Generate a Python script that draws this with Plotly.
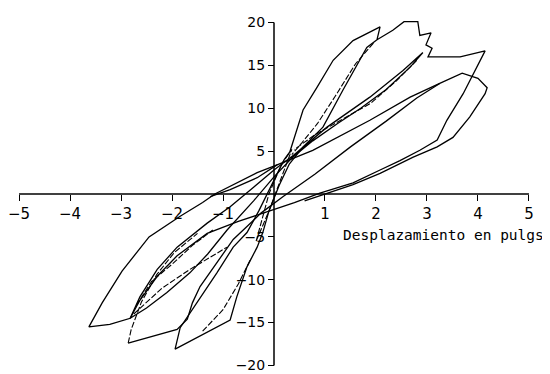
import plotly.graph_objects as go

# ---- data, x = desplazamiento (pulg), y = carga (kips)
# Outer path: ascending to ~±3 cycles, big cycle to ±4 and last degraded cycle
outer_x = [0.31, 0.57, 0.84, 1.16, 1.55, 2.08, 2.02, 2.33, 2.55, 2.82, 2.86, 3.08, 2.98, 3.10, 3.02,
           3.65, 4.14, 3.88, 3.71, 3.39, 3.20, 2.86, 2.47, 2.08, 1.55, 0.90, 0.40, -0.20, -0.70,
           -1.31, -1.90, -2.29, -2.63, -2.82, -3.22, -3.63, -3.37, -2.98, -2.45, -1.84, -1.40,
           -1.16, -0.70, -0.33, 0.06, 0.76, 1.88, 2.67, 3.25, 3.69, 4.00, 4.18, 4.14, 3.84, 3.51,
           3.20, 2.73, 2.08, 1.55, 1.00, 0.60]
outer_y = [4.9, 9.8, 12.4, 15.6, 17.9, 19.5, 18.0, 19.1, 20.1, 20.1, 18.5, 18.8, 17.4, 17.0, 16.0,
           16.0, 16.7, 13.6, 11.7, 8.6, 6.3, 5.1, 3.9, 2.8, 1.3, 0.1, -1.0, -2.2, -3.2,
           -4.6, -7.2, -9.6, -12.4, -14.5, -15.2, -15.5, -12.7, -9.0, -5.0, -2.6, -1.0,
           0.0, 1.4, 2.5, 3.4, 5.1, 8.6, 11.3, 12.9, 14.1, 13.5, 12.4, 11.7, 9.0, 6.6,
           5.5, 4.3, 2.4, 1.1, 0.0, -0.8]

# Cycle to ~±2 in. (peak 19.5 / tip -18.1)
c2_x = [2.02, 1.82, 1.35, 0.96, 0.57, 0.30, 0.10, -0.10, -0.22, -0.33, -0.53, -0.73, -0.86, -1.45,
        -1.94, -1.84, -1.51, -1.12, -0.80, -0.53, -0.30, 0.00, 0.20, 0.31]
c2_y = [18.0, 17.1, 12.1, 7.8, 5.5, 3.5, 1.0, -2.0, -4.5, -6.2, -8.5, -12.0, -14.7, -16.6,
        -18.1, -15.6, -12.7, -9.2, -6.2, -4.5, -2.0, 1.5, 4.0, 4.9]

# Repeated cycle to ~±3 in. (peak 16.5 / tip -14.5)
c3_x = [2.92, 2.67, 2.20, 1.70, 1.24, 0.76, 0.35, 0.00, -0.40, -0.92, -1.30, -1.65, -2.10, -2.50,
        -2.82, -2.63, -2.29, -1.90, -1.31, -0.86, -0.40, 0.00, 0.40, 1.04, 1.88, 2.53, 2.92]
c3_y = [16.5, 14.8, 12.2, 10.0, 8.2, 6.2, 4.2, 2.0, -0.8, -4.2, -7.0, -9.2, -11.5, -13.3,
        -14.5, -12.0, -8.8, -6.2, -3.4, -1.5, 0.8, 2.8, 4.6, 7.8, 11.3, 14.4, 16.5]

# First cycle to ~-3 in. (tip -17.4), lower edge going back up
c3a_x = [-2.86, -2.43, -1.90, -1.70, -1.60, -1.45, -1.12, -0.80, -0.53, -0.25, 0.18, 0.80, 1.50,
         2.20, 2.80, 3.25]
c3a_y = [-17.4, -16.7, -15.8, -14.6, -12.7, -10.8, -8.0, -5.3, -3.8, -2.2, -0.3, 2.3, 5.5,
         8.5, 11.2, 12.9]
c3b_x = [-2.86, -2.80, -2.60, -2.30, -1.95, -1.50]
c3b_y = [-17.4, -15.8, -12.6, -9.4, -6.8, -4.6]

# Inner (repeated) branches of the bundles
in1_x = [1.95, 1.60, 1.20, 0.85, 0.55, 0.35]
in1_y = [17.6, 15.2, 11.4, 8.2, 6.0, 4.6]
in2_x = [2.80, 2.40, 1.90, 1.30, 0.80, 0.40]
in2_y = [15.6, 13.2, 10.6, 8.6, 6.9, 5.2]
in3_x = [-2.75, -2.20, -1.65, -1.12, -0.92]
in3_y = [-14.0, -11.0, -8.8, -6.9, -6.2]
in4_x = [-2.70, -2.40, -2.00, -1.60, -1.20]
in4_y = [-13.0, -10.2, -8.2, -6.0, -4.2]
in5_x = [-1.25, -0.86, -0.33, 0.06]
in5_y = [-0.3, 0.5, 1.9, 3.4]
in6_x = [-1.40, -1.00, -0.70, -0.45]
in6_y = [-16.0, -13.5, -10.5, -7.5]

# small cycles near the origin
sm_x = [-0.35, -0.10, 0.15, 0.35, 0.15, -0.10, -0.35]
sm_y = [-5.5, -2.0, 2.0, 5.2, 3.5, 0.0, -5.5]

xticks = [-5, -4, -3, -2, -1, 1, 2, 3, 4, 5]
yticks = [-20, -15, -10, -5, 5, 10, 15, 20]
xlabels = [("\u2212" + str(-v)) if v < 0 else str(v) for v in xticks]
ylabels = [("\u2212" + str(-v)) if v < 0 else str(v) for v in yticks]

fig = go.Figure()
solid = dict(color="black", width=1.3)
broken = dict(color="black", width=1.1, dash="6px,2px")

for xs, ys, ln in [(outer_x, outer_y, solid), (c2_x, c2_y, solid), (c3_x, c3_y, solid),
                   (c3a_x, c3a_y, solid), (c3b_x, c3b_y, broken), (in1_x, in1_y, broken),
                   (in2_x, in2_y, broken), (in3_x, in3_y, broken), (in4_x, in4_y, broken),
                   (in5_x, in5_y, solid), (in6_x, in6_y, broken), (sm_x, sm_y, broken)]:
    fig.add_trace(go.Scatter(x=xs, y=ys, mode="lines", line=ln, showlegend=False,
                             hoverinfo="skip"))

# page body has an 8px default margin, so the figure is drawn 8px smaller and offset
fig.update_layout(
    width=542, height=366,
    margin=dict(l=9, r=19, t=12, b=6, autoexpand=False),
    paper_bgcolor="white", plot_bgcolor="white",
    font=dict(family="DejaVu Sans", color="black", size=15),
    xaxis=dict(range=[-5.04, 5.04], anchor="free", position=0.5, showline=False,
               ticks="outside", ticklen=6, tickwidth=1.3, tickcolor="black",
               tickvals=xticks, ticktext=xlabels, showgrid=False, automargin=False,
               ticklabeloverflow="allow", zeroline=False, tickfont=dict(size=15)),
    yaxis=dict(range=[-20.3, 20.3], anchor="free", position=0.5, showline=False,
               ticks="outside", ticklen=6, tickwidth=1.3, tickcolor="black",
               tickvals=yticks, ticktext=ylabels, showgrid=False, automargin=False,
               ticklabeloverflow="allow", zeroline=False, tickfont=dict(size=14)),
    shapes=[dict(type="line", xref="x", yref="y", x0=0, x1=0, y0=-20, y1=20,
                 line=dict(color="black", width=1.5)),
            dict(type="line", xref="x", yref="y", x0=-5, x1=5, y0=0, y1=0,
                 line=dict(color="black", width=1.5))],
    annotations=[
        dict(text="Carga  (kips)", x=0.16, y=21.1, xref="x", yref="y", showarrow=False,
             xanchor="left", yanchor="middle",
             font=dict(family="DejaVu Sans Mono", size=14.5, color="black")),
        dict(text="Desplazamiento en pulgs", x=1.31, y=-4.8, xref="x", yref="y",
             showarrow=False, xanchor="left", yanchor="middle",
             font=dict(family="DejaVu Sans Mono", size=14.5, color="black")),
    ],
)

fig.write_html("out.html")
